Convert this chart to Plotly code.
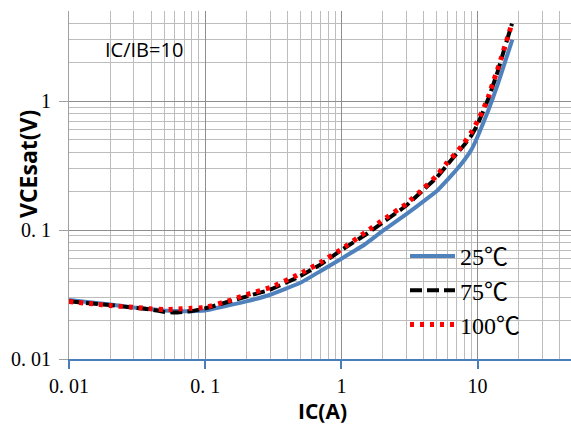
import plotly.graph_objects as go

# ---- data ----
ic_25 = [0.01, 0.02, 0.03, 0.05, 0.07, 0.1, 0.2, 0.3, 0.5, 0.7, 1, 1.5, 2, 3, 4, 5, 6, 7, 8, 9, 10, 12, 14, 16, 18]
vce_25 = [0.0287, 0.0265, 0.0251, 0.0238, 0.0235, 0.0238, 0.028, 0.0315, 0.039, 0.048, 0.060, 0.078, 0.098, 0.133, 0.167, 0.20, 0.245, 0.294, 0.35, 0.42, 0.53, 0.85, 1.33, 2.05, 3.0]

ic_75 = [0.01, 0.02, 0.03, 0.04, 0.05, 0.06, 0.08, 0.1, 0.2, 0.3, 0.5, 0.7, 1, 1.5, 2, 3, 4, 5, 6, 7, 8, 9, 10, 12, 14, 16, 17.9]
vce_75 = [0.0280, 0.0262, 0.0250, 0.0242, 0.0232, 0.0229, 0.0236, 0.0247, 0.0305, 0.0345, 0.044, 0.054, 0.070, 0.092, 0.114, 0.155, 0.205, 0.255, 0.322, 0.39, 0.46, 0.54, 0.66, 1.05, 1.68, 2.7, 4.0]

ic_100 = [0.01, 0.015, 0.02, 0.03, 0.04, 0.05, 0.06, 0.08, 0.1, 0.15, 0.2, 0.3, 0.5, 0.7, 1, 1.5, 2, 3, 4, 5, 6, 7, 8, 9, 10, 11, 12, 13, 14, 15, 16, 17, 17.9]
vce_100 = [0.0279, 0.0268, 0.026, 0.0252, 0.0245, 0.0242, 0.0243, 0.0248, 0.0251, 0.0284, 0.0315, 0.0358, 0.046, 0.056, 0.071, 0.096, 0.119, 0.160, 0.21, 0.264, 0.335, 0.40, 0.477, 0.573, 0.70, 0.86, 1.08, 1.40, 1.75, 2.2, 2.75, 3.35, 4.05]

series_names = ["25℃", "75℃", "100℃"]

x_major = [0.01, 0.1, 1, 10]
x_major_text = ["0. 01", "0. 1", "1", "10"]
y_major = [0.01, 0.1, 1]
y_major_text = ["0. 01", "0. 1", "1"]

x_minor = [m * d for d in [0.01, 0.1, 1, 10] for m in range(2, 10)]
y_minor = [m * d for d in [0.01, 0.1] for m in range(2, 10)] + [2, 3, 4, 5]

fig = go.Figure()
fig.add_trace(go.Scatter(x=ic_25, y=vce_25, mode="lines", name=series_names[0],
                         line=dict(color="#4f81bd", width=4, shape="spline", smoothing=0.3)))
fig.add_trace(go.Scatter(x=ic_75, y=vce_75, mode="lines", name=series_names[1],
                         line=dict(color="black", width=4, dash="12px,5px", shape="spline", smoothing=0.3)))
fig.add_trace(go.Scatter(x=ic_100, y=vce_100, mode="lines", name=series_names[2],
                         line=dict(color="#ff0000", width=5, dash="4px,6px", shape="spline", smoothing=0.3)))

W, H = 571, 425
L, R, T, B = 69, 0, 11, 66
pw, ph = W - L - R, H - T - B

def px_x(p):
    return (p - L) / pw

def px_y(p):
    return (H - B - p) / ph

tickfont = dict(family="Liberation Serif, Times New Roman, serif", size=20, color="black")

fig.update_layout(
    width=W, height=H,
    margin=dict(l=L, r=R, t=T, b=B, pad=0),
    paper_bgcolor="white", plot_bgcolor="white",
    showlegend=True,
    legend=dict(x=px_x(405), y=px_y(234), xanchor="left", yanchor="top",
                bgcolor="rgba(0,0,0,0)", borderwidth=0,
                font=dict(family="Liberation Serif, Noto Sans CJK SC, serif", size=24, color="black"),
                itemwidth=45),
    xaxis=dict(type="log", range=[-2, 1.686], showline=True, linecolor="#4a7ebb", linewidth=1.5,
               ticks="outside", ticklen=8, tickcolor="#4a7ebb", tickwidth=1.5,
               tickmode="array", tickvals=x_major, ticktext=x_major_text, tickfont=tickfont,
               ticklabelstandoff=0,
               showgrid=True, gridcolor="#8e8e8e", gridwidth=1, zeroline=False,
               minor=dict(tickmode="array", tickvals=x_minor, showgrid=True, gridcolor="#bdbdbd", gridwidth=1.2, ticks="")),
    yaxis=dict(type="log", range=[-2, 0.6995], showline=True, linecolor="#a0a0a0", linewidth=1,
               ticks="outside", ticklen=9, tickcolor="#a0a0a0",
               tickmode="array", tickvals=y_major, ticktext=y_major_text, tickfont=tickfont,
               ticklabelstandoff=4,
               showgrid=True, gridcolor="#8e8e8e", gridwidth=1, zeroline=False,
               minor=dict(tickmode="array", tickvals=y_minor, showgrid=True, gridcolor="#bdbdbd", gridwidth=1.2, ticks="")),
    shapes=[
        dict(type="rect", xref="paper", yref="paper", layer="between",
             x0=px_x(88), x1=px_x(204), y0=px_y(90), y1=px_y(27),
             fillcolor="white", line=dict(width=0)),
        dict(type="rect", xref="paper", yref="paper", layer="between",
             x0=px_x(377), x1=px_x(562), y0=px_y(347), y1=px_y(233),
             fillcolor="white", line=dict(width=0)),
    ],
    annotations=[
        dict(text="IC/IB=10", xref="paper", yref="paper", x=px_x(144), y=px_y(50),
             xanchor="center", yanchor="middle", showarrow=False,
             font=dict(family="Open Sans, sans-serif", size=20, color="black")),
        dict(text="<b>IC(A)</b>", xref="paper", yref="paper", x=px_x(322), y=px_y(411),
             xanchor="center", yanchor="middle", showarrow=False,
             font=dict(family="Open Sans, sans-serif", size=21, color="black")),
        dict(text="<b>VCEsat(V)</b>", xref="paper", yref="paper", x=px_x(28), y=px_y(164),
             xanchor="center", yanchor="middle", showarrow=False, textangle=-90,
             font=dict(family="Open Sans, sans-serif", size=23, color="black")),
    ],
)

fig.write_html("out.html")
